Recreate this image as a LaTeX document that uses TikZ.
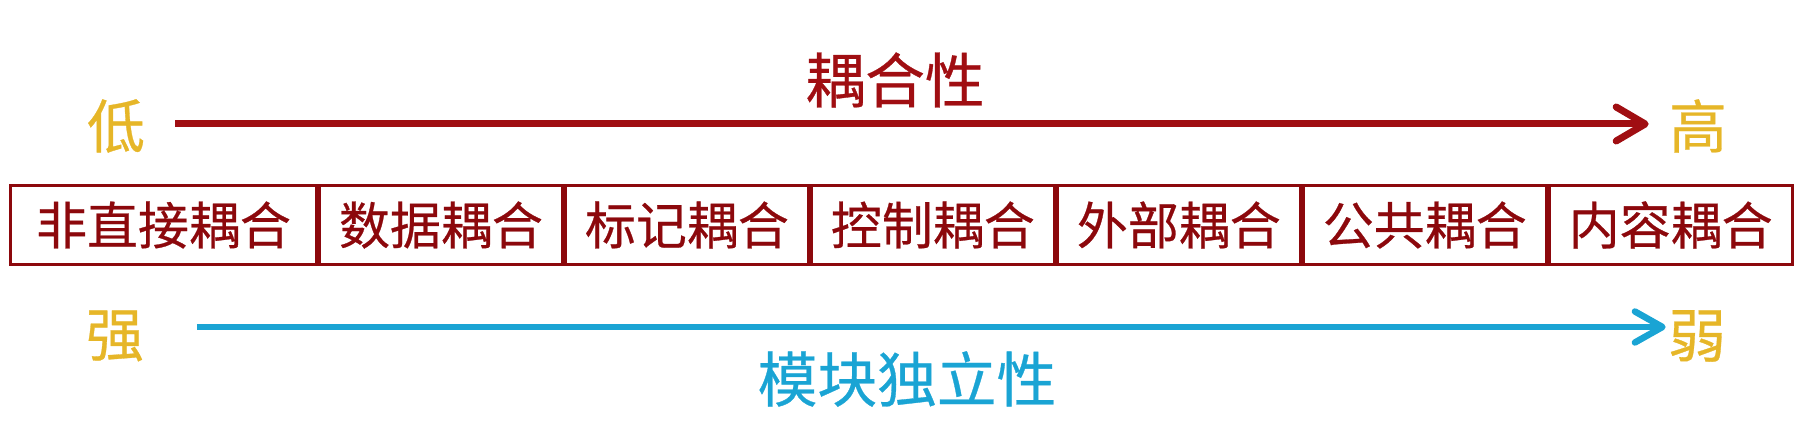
\documentclass[tikz,border=0pt]{standalone}
\usepackage{fontspec}
\usetikzlibrary{positioning,arrows.meta}
\newfontfamily\cjk{Noto Sans CJK SC}[FakeBold=0.5]
\definecolor{couplered}{RGB}{160,14,18}
\definecolor{boxred}{RGB}{140,8,12}
\definecolor{endgold}{RGB}{230,182,40}
\definecolor{indblue}{RGB}{26,164,212}

\begin{document}
\begin{tikzpicture}[x=0.02cm, y=-0.02cm,
    title/.style={inner sep=0pt, font=\cjk\fontsize{34pt}{40pt}\selectfont},
    end label/.style={inner sep=0pt, text=endgold, font=\cjk\fontsize{33pt}{40pt}\selectfont},
    coupling box/.style={draw=boxred, line width=0.06cm, minimum width=4.86cm, minimum height=1.58cm, inner sep=0pt, text=boxred, font=\cjk\fontsize{29pt}{34pt}\selectfont},
    main arrow/.style={line width=0.13cm}]

    \useasboundingbox (0,0) rectangle (1800,431);

    % Coupling scale
    \node[title, text=couplered] (coupling) at (895,80) {耦合性};
    \node[end label] (low) at (116,126) {低};
    \node[end label] (high) at (1698,126) {高};
    \draw[main arrow, line width=0.14cm, couplered, -{Straight Barb[length=0.58cm, width=0.68cm, round]}, shorten <=0.6cm, shorten >=0.4cm] ([yshift=0.04cm]low.east) -- ([yshift=0.04cm]high.west);

    % Types of coupling
    \node[coupling box, minimum width=6.12cm, anchor=west] (indirect) at (9,225) {非直接耦合};
    \node[coupling box, right=0pt of indirect] (data) {数据耦合};
    \node[coupling box, right=0pt of data] (stamp) {标记耦合};
    \node[coupling box, right=0pt of stamp] (control) {控制耦合};
    \node[coupling box, right=0pt of control] (external) {外部耦合};
    \node[coupling box, right=0pt of external] (common) {公共耦合};
    \node[coupling box, right=0pt of common] (content) {内容耦合};

    % Independence scale
    \node[end label] (strong) at (115,336) {强};
    \node[end label] (weak) at (1697,336) {弱};
    \draw[main arrow, indblue, -{Straight Barb[length=0.55cm, width=0.62cm, round]}, shorten <=1.05cm, shorten >=0.04cm] ([yshift=0.18cm]strong.east) -- ([yshift=0.18cm]weak.west);
    \node[title, text=indblue] (independence) at (907,379) {模块独立性};

\end{tikzpicture}
\end{document}
